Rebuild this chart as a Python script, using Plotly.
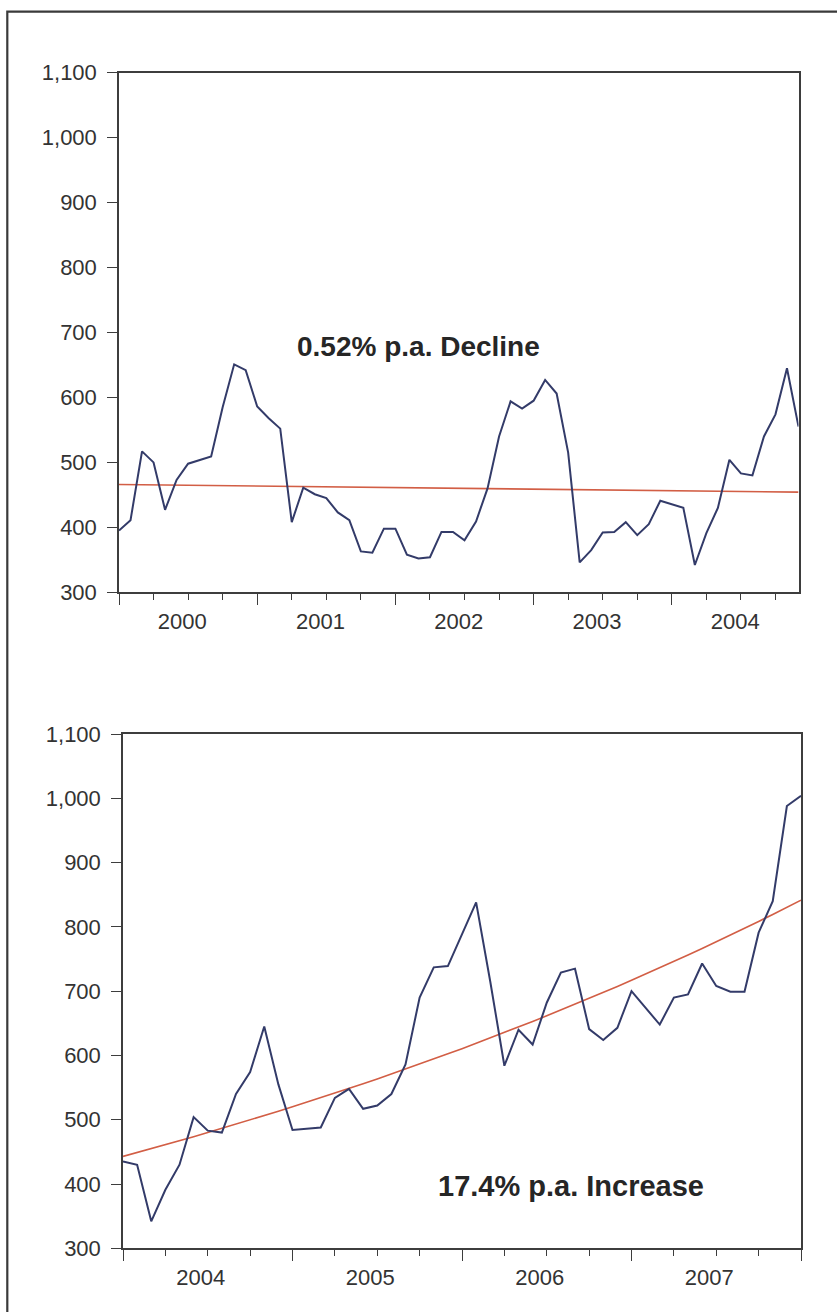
import plotly.graph_objects as go

# Monthly index level, Jan 2000 .. Jan 2008
level_2000 = [395, 411, 517, 500, 427, 473, 498, 503, 509, 585, 651, 642]
level_2001 = [586, 568, 552, 408, 461, 451, 445, 423, 411, 363, 361, 398]
level_2002 = [398, 358, 352, 354, 393, 393, 380, 409, 460, 540, 594, 583]
level_2003 = [595, 627, 606, 515, 346, 365, 392, 393, 408, 388, 405, 441]
level_2004 = [435, 430, 342, 391, 430, 504, 483, 480, 540, 574, 645, 555]
level_2005 = [484, 486, 488, 534, 548, 517, 522, 540, 586, 690, 737, 739]
level_2006 = [788, 838, 715, 584, 640, 617, 682, 729, 735, 641, 624, 643]
level_2007 = [700, 674, 648, 690, 695, 743, 708, 699, 699, 791, 840, 988]
level_2008 = [1004]

years_top = [2000, 2001, 2002, 2003, 2004]
years_bottom = [2004, 2005, 2006, 2007]

# Fitted exponential trends (annual rates as annotated)
trend_top_start, trend_top_rate = 466.0, -0.0052
trend_bottom_start, trend_bottom_rate = 443.0, 0.174
label_top = "0.52% p.a. Decline"
label_bottom = "17.4% p.a. Increase"

y_ticks = [300, 400, 500, 600, 700, 800, 900, 1000, 1100]

series_top = level_2000 + level_2001 + level_2002 + level_2003 + level_2004
series_bottom = level_2004 + level_2005 + level_2006 + level_2007 + level_2008

t_top = list(range(len(series_top)))
t_bottom = list(range(len(series_bottom)))
trend_top = [trend_top_start * (1 + trend_top_rate) ** (m / 12) for m in t_top]
trend_bottom = [trend_bottom_start * (1 + trend_bottom_rate) ** (m / 12) for m in t_bottom]

W, H = 837, 1312
NAVY = "#333b69"
RED = "#d25e45"
AXIS = "#3d3d3d"
TXT = "#333333"
FONT = "Liberation Sans, Arial, sans-serif"


def px_x(p):
    return p / W


def px_y(p):
    return 1 - p / H


fig = go.Figure()
fig.add_trace(go.Scatter(x=t_top, y=trend_top, mode="lines", line=dict(color=RED, width=1.6),
                         xaxis="x", yaxis="y", hoverinfo="skip"))
fig.add_trace(go.Scatter(x=t_top, y=series_top, mode="lines", line=dict(color=NAVY, width=2),
                         xaxis="x", yaxis="y"))
fig.add_trace(go.Scatter(x=t_bottom, y=trend_bottom, mode="lines", line=dict(color=RED, width=1.6),
                         xaxis="x2", yaxis="y2", hoverinfo="skip"))
fig.add_trace(go.Scatter(x=t_bottom, y=series_bottom, mode="lines", line=dict(color=NAVY, width=2),
                         xaxis="x2", yaxis="y2"))
# carriers for the year-label axes (no visible ink)
fig.add_trace(go.Scatter(x=t_top, y=series_top, mode="lines", opacity=0, hoverinfo="skip",
                         xaxis="x3", yaxis="y"))
fig.add_trace(go.Scatter(x=t_bottom, y=series_bottom, mode="lines", opacity=0, hoverinfo="skip",
                         xaxis="x4", yaxis="y2"))


def time_axes(n_points, years, domain, anchor, main_name):
    last = n_points - 1
    year_starts = [12 * k for k in range(len(years) + 1) if 12 * k <= last]
    quarters = list(range(0, last + 1, 3))
    main = dict(
        domain=domain, anchor=anchor, range=[0, last], automargin=False,
        showline=True, linecolor=AXIS, linewidth=1.5, mirror=True,
        showgrid=False, zeroline=False,
        tickmode="array", tickvals=year_starts, ticks="outside", ticklen=11,
        tickwidth=1.3, tickcolor=AXIS, showticklabels=False,
        minor=dict(tickmode="array", tickvals=quarters, ticks="outside", ticklen=6,
                   tickwidth=1.3, tickcolor=AXIS, showgrid=False),
    )
    labels = dict(
        overlaying=main_name, anchor=anchor, range=[0, last], side="bottom",
        automargin=False, showline=False, showgrid=False, zeroline=False,
        tickmode="array", tickvals=[12 * k + 5.5 for k in range(len(years))],
        ticktext=[str(y) for y in years], ticks="", ticklabelstandoff=14,
        tickfont=dict(family=FONT, size=22, color=TXT),
    )
    return main, labels


def value_axis(domain, anchor):
    return dict(
        domain=domain, anchor=anchor, range=[300, 1100], automargin=False,
        tickmode="array", tickvals=y_ticks, tickformat=",",
        showline=True, linecolor=AXIS, linewidth=1.5, mirror=True,
        showgrid=False, zeroline=False,
        ticks="outside", ticklen=10, tickwidth=1.3, tickcolor=AXIS,
        ticklabelstandoff=6,
        tickfont=dict(family=FONT, size=22, color=TXT),
    )


x_top, x_top_lab = time_axes(len(series_top), years_top,
                             [px_x(119), px_x(798.5)], "y", "x")
x_bot, x_bot_lab = time_axes(len(series_bottom), years_bottom,
                             [px_x(123), px_x(801)], "y2", "x2")

fig.update_layout(
    width=W, height=H, autosize=False,
    margin=dict(l=0, r=0, t=0, b=0, pad=0),
    paper_bgcolor="white", plot_bgcolor="white",
    showlegend=False,
    xaxis=x_top, xaxis3=x_top_lab,
    xaxis2=x_bot, xaxis4=x_bot_lab,
    yaxis=value_axis([px_y(592.3), px_y(72.7)], "x"),
    yaxis2=value_axis([px_y(1248.3), px_y(734)], "x2"),
    annotations=[
        dict(text=f"<b>{label_top}</b>", x=26.0, y=679, xref="x", yref="y",
             showarrow=False, font=dict(family=FONT, size=28, color="#262626")),
        dict(text=f"<b>{label_bottom}</b>", x=31.7, y=397, xref="x2", yref="y2",
             showarrow=False, font=dict(family=FONT, size=29, color="#262626")),
    ],
    shapes=[
        dict(type="rect", xref="paper", yref="paper",
             x0=px_x(7.3), x1=1.1, y0=-0.1, y1=px_y(11.7),
             line=dict(color="#3a3a3a", width=2.2), fillcolor="rgba(0,0,0,0)"),
    ],
)

fig.write_html("out.html")
